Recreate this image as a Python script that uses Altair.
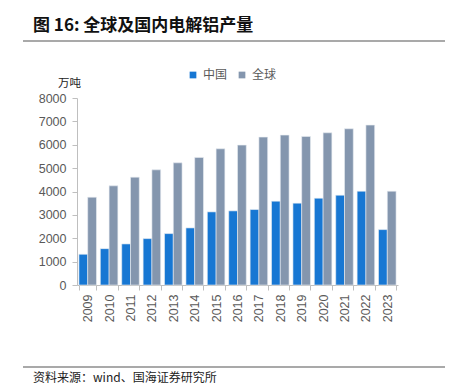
import altair as alt
import pandas as pd

years = [str(y) for y in range(2009, 2024)]
china = [1315, 1556, 1757, 1985, 2199, 2442, 3128, 3171, 3228, 3585, 3500, 3714, 3842, 4013, 2370]
world = [3757, 4242, 4614, 4927, 5227, 5456, 5827, 5984, 6327, 6413, 6355, 6512, 6684, 6841, 4013]
series = ["中国", "全球"]
colors = ["#1777D3", "#8496AE"]

rows = []
for i, y in enumerate(years):
    rows.append({"year": y, "series": series[0], "value": china[i]})
    rows.append({"year": y, "series": series[1], "value": world[i]})
df = pd.DataFrame(rows)

font = "Liberation Sans"
cjk = "Noto Sans CJK SC"

bars = alt.Chart(df).mark_bar(stroke="#E8ECF2", strokeWidth=0.6).encode(
    x=alt.X("year:N", sort=years, title=None,
            scale=alt.Scale(paddingInner=0.18, paddingOuter=0.09),
            axis=alt.Axis(labelAngle=-90, labelFont=font, labelFontSize=12.5,
                          labelColor="#595959", tickBand="extent", tickColor="#BFBFBF",
                          tickSize=5, domainColor="#BFBFBF", labelPadding=4,
                          labelBaseline="middle", labelAlign="right")),
    xOffset=alt.XOffset("series:N", sort=series),
    y=alt.Y("value:Q", title=None,
            scale=alt.Scale(domain=[0, 8000]),
            axis=alt.Axis(values=list(range(0, 8001, 1000)), grid=False, format="d",
                          labelFont=font, labelFontSize=12.5, labelColor="#595959",
                          tickColor="#BFBFBF", tickSize=5, domainColor="#BFBFBF",
                          labelPadding=6)),
    color=alt.Color("series:N", sort=series,
                    scale=alt.Scale(domain=series, range=colors),
                    legend=alt.Legend(orient="none", legendX=110, legendY=-29,
                                      direction="horizontal", title=None,
                                      symbolType="square", symbolSize=45,
                                      symbolStrokeWidth=0,
                                      labelFont=cjk, labelFontSize=12,
                                      labelColor="#595959", columnPadding=8,
                                      labelOffset=4)),
)

def txt(s, x, y, size, weight="normal", color="#000000", align="left"):
    return alt.Chart(pd.DataFrame({"t": [s]})).mark_text(
        font=cjk, fontSize=size, fontWeight=weight, color=color, align=align,
        baseline="middle").encode(x=alt.value(x), y=alt.value(y), text="t:N")

title = txt("图 16:  全球及国内电解铝产量", -44, -72, 17, "bold", "#111111")
unit = txt("万吨", -19, -14, 11.5, "normal", "#222222")
source = txt("资料来源：wind、国海证券研究所", -44, 280, 12, "normal", "#222222")

line1 = alt.Chart(pd.DataFrame({"a": [0]})).mark_rule(color="#8C8C8C", strokeWidth=1.5).encode(
    x=alt.value(-54), x2=alt.value(376), y=alt.value(-57))
line2 = alt.Chart(pd.DataFrame({"a": [0]})).mark_rule(color="#8C8C8C", strokeWidth=1.5).encode(
    x=alt.value(-54), x2=alt.value(376), y=alt.value(269))

chart = alt.layer(bars, title, unit, source, line1, line2).properties(
    width=321, height=187,
    background="white",
    autosize=alt.AutoSizeParams(type="none"),
    padding={"left": 69, "top": 90, "right": 47, "bottom": 110},
).configure_view(strokeWidth=0, stroke="transparent")

chart.save("out.html", embed_options={"renderer": "svg", "actions": False})
